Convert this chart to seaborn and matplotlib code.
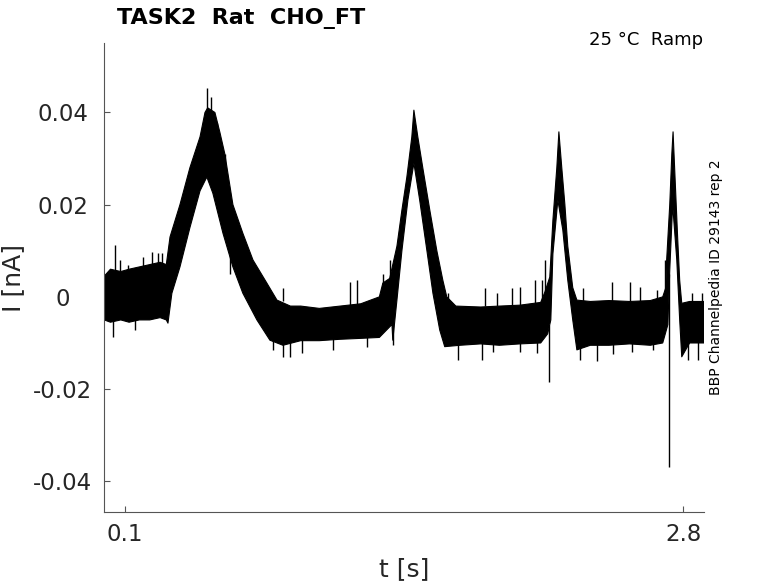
import numpy as np
import pandas as pd
import matplotlib
matplotlib.use("Agg")
import matplotlib.pyplot as plt
import seaborn as sns

# upper edge of the noisy current trace (t in s, I in nA)
upper_t = [0.0, 0.03, 0.08, 0.12, 0.17, 0.22, 0.27, 0.30,
           0.318, 0.366, 0.414, 0.463, 0.487, 0.50,
           0.535, 0.559, 0.583, 0.622, 0.670, 0.719, 0.786, 0.835, 0.90,
           0.95, 1.04, 1.14, 1.24, 1.33, 1.347, 1.38,
           1.415, 1.439, 1.463, 1.487, 1.497,
           1.516, 1.540, 1.574, 1.608, 1.637, 1.656,
           1.70, 1.82, 1.91, 2.01, 2.11, 2.13,
           2.154, 2.169, 2.188, 2.198,
           2.212, 2.227, 2.241, 2.265, 2.285,
           2.35, 2.44, 2.54, 2.64, 2.70, 2.715,
           2.719, 2.734, 2.744, 2.750,
           2.758, 2.772, 2.782, 2.792,
           2.83, 2.90]
upper_i = [0.0045, 0.006, 0.0055, 0.006, 0.0065, 0.007, 0.0075, 0.007,
           0.013, 0.020, 0.028, 0.0347, 0.040, 0.041,
           0.040, 0.0357, 0.031, 0.020, 0.0138, 0.008, 0.003, -0.0007, -0.002,
           -0.002, -0.0025, -0.002, -0.0015, 0.0, 0.003, 0.004,
           0.011, 0.0188, 0.026, 0.0347, 0.0405,
           0.0347, 0.028, 0.0188, 0.010, 0.0036, 0.0,
           -0.002, -0.0022, -0.002, -0.0018, -0.0012, 0.001,
           0.0043, 0.0166, 0.028, 0.0358,
           0.028, 0.020, 0.011, 0.002, -0.0007,
           -0.001, -0.0008, -0.001, -0.0008, 0.0, 0.002,
           0.008, 0.020, 0.031, 0.0358,
           0.0275, 0.013, 0.0036, -0.0014,
           -0.001, -0.001]

# lower edge of the trace
lower_t = [0.0, 0.03, 0.08, 0.12, 0.17, 0.22, 0.27, 0.30, 0.308,
           0.327, 0.366, 0.414, 0.463, 0.496,
           0.525, 0.574, 0.622, 0.670, 0.738, 0.801, 0.864,
           0.95, 1.04, 1.14, 1.24, 1.33, 1.391,
           1.395, 1.415, 1.439, 1.468, 1.497,
           1.525, 1.560, 1.589, 1.622, 1.646,
           1.72, 1.82, 1.91, 2.01, 2.11, 2.144,
           2.159, 2.169, 2.193,
           2.217, 2.241, 2.265, 2.285,
           2.35, 2.44, 2.54, 2.64, 2.70, 2.725,
           2.734, 2.748,
           2.768, 2.782, 2.792,
           2.83, 2.90]
lower_i = [-0.005, -0.0055, -0.005, -0.0055, -0.005, -0.005, -0.0045, -0.005, -0.0057,
           0.0008, 0.0065, 0.015, 0.023, 0.026,
           0.0225, 0.0138, 0.0065, 0.0008, -0.005, -0.0094, -0.0105,
           -0.0095, -0.0095, -0.0092, -0.009, -0.0088, -0.006,
           -0.0094, -0.0007, 0.010, 0.021, 0.029,
           0.021, 0.010, 0.0008, -0.0072, -0.0108,
           -0.0105, -0.0102, -0.0105, -0.0102, -0.0100, -0.008,
           -0.005, 0.0093, 0.021,
           0.0145, 0.0036, -0.005, -0.0115,
           -0.0105, -0.0105, -0.0102, -0.0105, -0.010, -0.006,
           0.0058, 0.020,
           0.008, -0.005, -0.013,
           -0.010, -0.010]

# single noise spikes and the two capacitive dips (t, low, high)
spike_t = [0.042, 0.052, 0.076, 0.115, 0.148, 0.187, 0.231, 0.260, 0.279,
           0.376, 0.496, 0.516, 0.545, 0.583, 0.608,
           0.815, 0.864, 0.864, 0.898, 0.955, 1.105, 1.188, 1.222, 1.270, 1.347, 1.381, 1.395,
           1.661, 1.710, 1.825, 1.839, 1.879, 1.897, 1.970, 2.009, 2.009, 2.082, 2.091, 2.116, 2.130,
           2.149,
           2.299, 2.313, 2.381, 2.453, 2.459, 2.540, 2.550, 2.589, 2.652, 2.671, 2.710,
           2.728,
           2.821, 2.840, 2.869, 2.889]
spike_lo = [-0.0087, 0.004, 0.004, 0.004, -0.0072, 0.005, 0.005, 0.005, 0.005,
            0.015, 0.035, 0.035, 0.030, 0.025, 0.005,
            -0.0115, -0.001, -0.013, -0.013, -0.0122, -0.0115, -0.002, -0.002, -0.0109, 0.0, 0.002, -0.0105,
            -0.002, -0.0137, -0.0137, -0.002, -0.012, -0.002, -0.002, -0.002, -0.012, -0.002, -0.0122, -0.002, 0.0,
            -0.0185,
            -0.0137, -0.001, -0.014, -0.001, -0.0125, -0.001, -0.012, -0.001, -0.0115, -0.001, 0.0,
            -0.0368,
            -0.0137, -0.001, -0.0137, -0.001]
spike_hi = [-0.004, 0.0112, 0.008, 0.0069, -0.004, 0.0087, 0.0097, 0.0095, 0.0095,
            0.0205, 0.0453, 0.0433, 0.0377, 0.031, 0.012,
            -0.008, 0.0019, -0.008, -0.008, -0.008, -0.008, 0.0032, 0.0036, -0.008, 0.005, 0.008, -0.006,
            0.0008, -0.009, -0.009, 0.0019, -0.009, 0.0008, 0.0019, 0.0021, -0.009, 0.0036, -0.009, 0.0036, 0.008,
            -0.006,
            -0.009, 0.0019, -0.009, 0.0032, -0.009, 0.0032, -0.009, 0.0021, -0.009, 0.0015, 0.008,
            0.005,
            -0.009, 0.0008, -0.009, 0.0008]

x_ticks = [0.1, 2.8]
x_tick_labels = ["0.1", "2.8"]
y_ticks = [-0.04, -0.02, 0.0, 0.02, 0.04]
y_tick_labels = ["-0.04", "-0.02", "0", "0.02", "0.04"]

sns.set_theme(style="ticks")
plt.rcParams["font.family"] = ["DejaVu Sans"]

fig = plt.figure(figsize=(7.78, 5.83), dpi=100)
ax = fig.add_axes([0.134, 0.1223, 0.771, 0.8034])

# filled band between upper and lower edge
poly_t = np.r_[upper_t, lower_t[::-1]]
poly_i = np.r_[upper_i, lower_i[::-1]]
ax.fill(poly_t, poly_i, color="black", lw=0)

up = pd.DataFrame({"t": upper_t, "I": upper_i})
lo = pd.DataFrame({"t": lower_t, "I": lower_i})
sns.lineplot(data=up, x="t", y="I", ax=ax, color="black", lw=0.8, sort=False, estimator=None)
sns.lineplot(data=lo, x="t", y="I", ax=ax, color="black", lw=0.8, sort=False, estimator=None)
ax.vlines(spike_t, spike_lo, spike_hi, color="black", lw=1.0)

ax.set_xlim(0.0, 2.9)
ax.set_ylim(-0.0466, 0.055)
ax.set_xticks(x_ticks)
ax.set_xticklabels(x_tick_labels)
ax.set_yticks(y_ticks)
ax.set_yticklabels(y_tick_labels, ha="center")
ax.tick_params(direction="in", length=4, width=0.8, colors="#555555",
               labelcolor="#262626", labelsize=16.5)
ax.tick_params(axis="x", pad=8)
ax.tick_params(axis="y", pad=30)
for side in ["top", "right"]:
    ax.spines[side].set_visible(False)
for side in ["left", "bottom"]:
    ax.spines[side].set_color("#555555")
    ax.spines[side].set_linewidth(0.8)

ax.set_xlabel("t [s]", fontsize=18, color="#262626", labelpad=8)
ax.set_ylabel("I [nA]", fontsize=18, color="#262626", labelpad=6)

fig.text(117 / 778, 0.969, "TASK2  Rat  CHO_FT", fontsize=16, fontweight="bold",
         ha="left", va="center", color="black")
fig.text(703 / 778, 0.931, "25 °C  Ramp", fontsize=13, ha="right", va="center", color="black")
fig.text(716 / 778, 0.525, "BBP Channelpedia ID 29143 rep 2", fontsize=10,
         rotation=90, ha="center", va="center", color="black")

fig.savefig("out.png", dpi=100)
